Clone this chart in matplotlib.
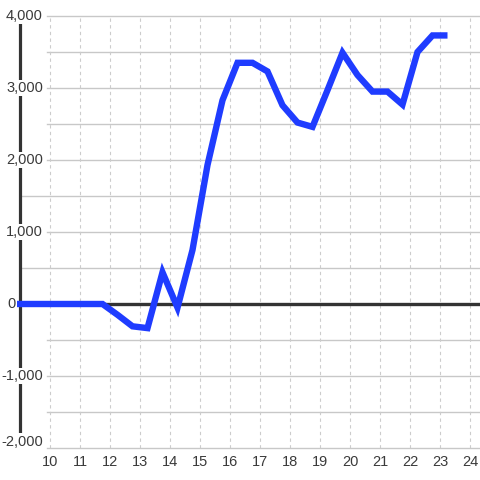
import matplotlib
matplotlib.use("Agg")
import matplotlib.pyplot as plt

plt.rcParams['font.family'] = ['Liberation Sans', 'DejaVu Sans']

# данные
x_vals = [8.9, 9.25, 9.75, 10.25, 10.75, 11.25, 11.75, 12.25, 12.75, 13.25,
          13.75, 14.25, 14.75, 15.25, 15.75, 16.25, 16.75, 17.25, 17.75, 18.25,
          18.75, 19.25, 19.75, 20.25, 20.75, 21.25, 21.75, 22.25, 22.75, 23.25]
y_vals = [0, 0, 0, 0, 0, 0, 0, -150, -310, -335,
          440, -50, 750, 1930, 2830, 3350, 3350, 3230, 2760, 2520,
          2460, 2970, 3490, 3180, 2950, 2950, 2770, 3500, 3730, 3730]
x_ticks = [10, 11, 12, 13, 14, 15, 16, 17, 18, 19, 20, 21, 22, 23, 24]
y_ticks = [-2000, -1000, 0, 1000, 2000, 3000, 4000]
y_grid = [-2000, -1500, -1000, -500, 0, 500, 1000, 1500, 2000, 2500, 3000, 3500, 4000]

fig = plt.figure(figsize=(4.8, 4.8), dpi=100)
ax = fig.add_axes([20 / 480, 32 / 480, 460 / 480, 432 / 480])
x_right = 9 + 460 / 30
ax.set_xlim(9, x_right)
ax.set_ylim(-2000, 4000)
for s in ax.spines.values():
    s.set_visible(False)
ax.set_xticks([])
ax.set_yticks([])

# сетка
for yv in y_grid:
    x0 = 9 if yv in (500, 1500) else 9 + 27 / 30
    ax.plot([x0, x_right], [yv, yv], color='#c8c8c8', lw=1, zorder=1, clip_on=False)
for xv in x_ticks:
    ax.plot([xv, xv], [-2000, 4000], color='#cccccc', lw=0.8, ls=(0, (3, 3)), zorder=1)

# ось Y и нулевая линия
ax.plot([9, 9], [-2000, 4000], color='#333333', lw=2.3, zorder=2, clip_on=False,
        solid_capstyle='butt')
ax.plot([9, x_right], [0, 0], color='#333333', lw=2.4, zorder=2, solid_capstyle='butt')

# данные
ax.plot(x_vals, y_vals, color='#1f3cff', lw=4.6, zorder=3, solid_joinstyle='miter',
        solid_capstyle='butt', clip_on=False)

# подписи
for yv in y_ticks:
    ypos = yv if yv > -2000 else yv + 90
    xpos = 9 + 23 / 30 if yv != 0 else 9 - 4 / 30
    ax.text(xpos, ypos, f"{yv:,}", ha='right', va='center', fontsize=10.5,
            color='#3a3a3a', zorder=4 if yv != 0 else 2.5,
            bbox=dict(facecolor='white', edgecolor='none', pad=1.0))
for xv in x_ticks:
    ax.text(xv, -2000 - 14 * 6000 / 432, str(xv), ha='center', va='center',
            fontsize=10.5, color='#3a3a3a', clip_on=False)

fig.savefig("out.png", dpi=100)
